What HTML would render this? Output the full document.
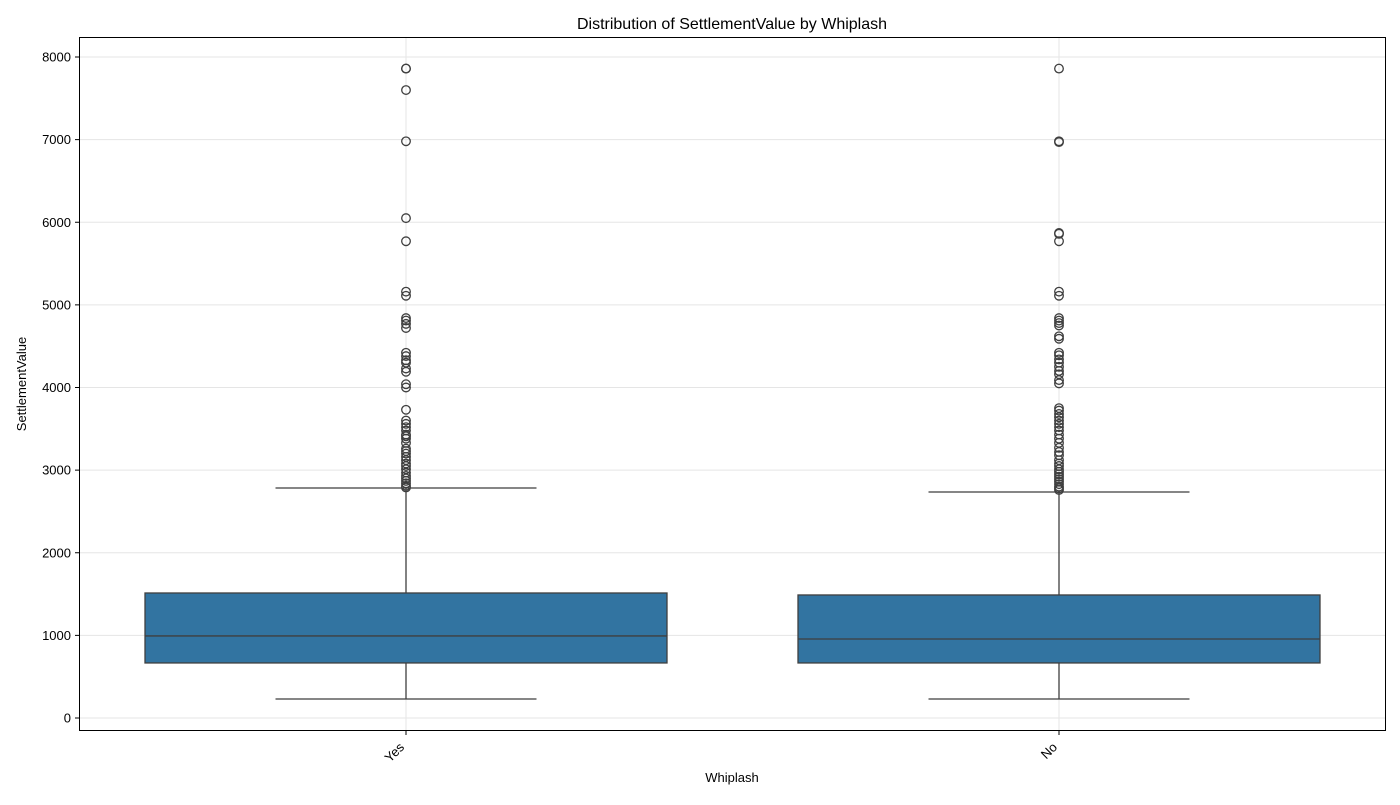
<!DOCTYPE html>
<html><head><meta charset="utf-8"><style>
body{margin:0;background:#fff;font-family:"Liberation Sans",sans-serif}
</style></head><body>
<svg id="chart" width="1400" height="800" xmlns="http://www.w3.org/2000/svg" font-family="Liberation Sans, sans-serif">
<rect width="1400" height="800" fill="#fff"/>
<text x="732" y="29" font-size="16" text-anchor="middle">Distribution of SettlementValue by Whiplash</text>
<g id="grid"></g>
<g id="marks"></g>
<rect x="79.5" y="37.5" width="1306" height="693" fill="none" stroke="#000" stroke-width="1"/>
<g id="axes"></g>
<text x="732" y="782" font-size="13" text-anchor="middle">Whiplash</text>
<text transform="translate(26,384) rotate(-90)" font-size="13" text-anchor="middle">SettlementValue</text>
</svg>
<script>
const categories = ["Yes","No"];
const q1 = [666, 666];
const median = [993, 956];
const q3 = [1513, 1489];
const whiskerLow = [230, 230];
const whiskerHigh = [2784, 2735];
const outliersYes = [7860,7860,7600,6980,6050,5770,5160,5110,4840,4810,4770,4720,4420,4380,4330,4300,4230,4190,4040,4000,3730,3600,3560,3520,3480,3430,3410,3380,3330,3260,3230,3200,3160,3120,3080,3050,3010,2970,2930,2900,2870,2840,2810,2790];
const outliersNo = [7860,6980,6970,5870,5860,5770,5160,5110,4840,4810,4780,4750,4620,4590,4420,4390,4340,4300,4250,4200,4160,4090,4050,3750,3720,3680,3640,3600,3560,3520,3480,3430,3380,3330,3270,3220,3180,3120,3080,3050,3010,2980,2950,2920,2890,2860,2830,2800,2780,2760];
const outliers = [outliersYes, outliersNo];
const yTicks = [0,1000,2000,3000,4000,5000,6000,7000,8000];

const NS="http://www.w3.org/2000/svg";
const y = v => 718 - v*(661/8000);
const x = i => 406 + i*653;
const boxW = 522;
function el(tag, attrs, parent){const e=document.createElementNS(NS,tag);for(const k in attrs)e.setAttribute(k,attrs[k]);parent.appendChild(e);return e;}
const grid=document.getElementById('grid'), marks=document.getElementById('marks'), axes=document.getElementById('axes');
yTicks.forEach(t=>{
  const g=el('line',{x1:80,x2:1385,y1:y(t),y2:y(t),stroke:'#e5e5e5','stroke-width':1},grid);
  
  
  const tk=el('line',{x1:75,x2:79,y1:y(t),y2:y(t),stroke:'#000'},axes);
  
  
  const lb=el('text',{x:71,y:y(t)+4.5,'font-size':13,'text-anchor':'end'},axes);
  lb.textContent=t;
  
  
});
categories.forEach((c,i)=>{
  const cx=x(i);
  const gv=el('line',{x1:cx,x2:cx,y1:38,y2:730,stroke:'#e5e5e5'},grid);
  
  
  const tk=el('line',{x1:cx,x2:cx,y1:731,y2:735,stroke:'#000'},axes);
  
  
  const lb=el('text',{transform:`translate(${cx-1},${748}) rotate(-45)`,'font-size':13,'text-anchor':'end'},axes);
  lb.textContent=c;
  
  
  const g=el('g',{},marks);
  
  
  el('line',{x1:cx,x2:cx,y1:y(q3[i]),y2:y(whiskerHigh[i]),stroke:'#3f3f3f','stroke-width':1.3},g);
  el('line',{x1:cx,x2:cx,y1:y(q1[i]),y2:y(whiskerLow[i]),stroke:'#3f3f3f','stroke-width':1.3},g);
  el('line',{x1:cx-boxW/4,x2:cx+boxW/4,y1:y(whiskerHigh[i]),y2:y(whiskerHigh[i]),stroke:'#3f3f3f','stroke-width':1.3},g);
  el('line',{x1:cx-boxW/4,x2:cx+boxW/4,y1:y(whiskerLow[i]),y2:y(whiskerLow[i]),stroke:'#3f3f3f','stroke-width':1.3},g);
  el('rect',{x:cx-boxW/2,y:y(q3[i]),width:boxW,height:y(q1[i])-y(q3[i]),fill:'#3274a1',stroke:'#3f3f3f','stroke-width':1.3},g);
  el('line',{x1:cx-boxW/2,x2:cx+boxW/2,y1:y(median[i]),y2:y(median[i]),stroke:'#3f3f3f','stroke-width':1.3},g);
  outliers[i].forEach(v=>{
    const p=el('circle',{cx:cx,cy:y(v),r:4.3,fill:'none',stroke:'#3f3f3f','stroke-width':1.3},g);
    
    
  });
});
</script>
</body></html>
